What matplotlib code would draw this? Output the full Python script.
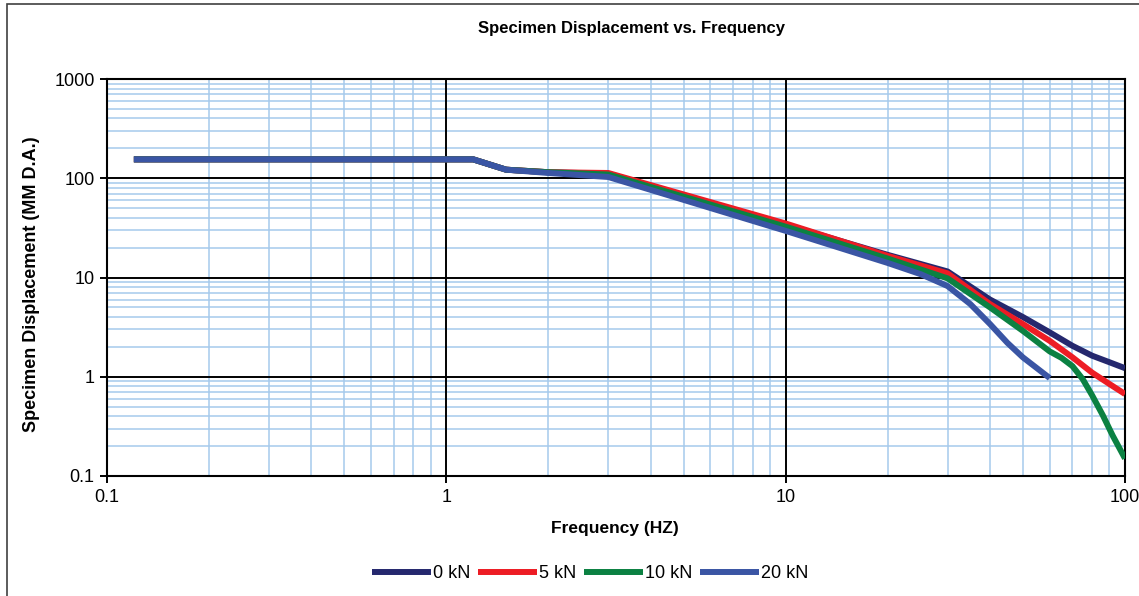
import matplotlib
matplotlib.use("Agg")
import matplotlib.pyplot as plt
from matplotlib.patches import Rectangle
from matplotlib.ticker import LogLocator, FixedLocator, FuncFormatter, NullFormatter

plt.rcParams["font.family"] = ["Liberation Sans", "DejaVu Sans"]

# data (Hz, mm D.A.)
freq_0kn = [0.12, 1.2, 1.5, 2, 3, 10, 20, 30, 40, 50, 60, 70, 80, 90, 100]
disp_0kn = [155, 155, 122, 115, 111, 34, 16.9, 11.5, 6.0, 4.0, 2.8, 2.05, 1.63, 1.4, 1.22]

freq_5kn = [0.12, 1.2, 1.5, 2, 3, 10, 20, 30, 40, 50, 60, 70, 80, 90, 100]
disp_5kn = [155, 155, 122, 115, 113, 35, 16.5, 11.0, 5.4, 3.4, 2.3, 1.57, 1.1, 0.845, 0.67]

freq_10kn = [0.12, 1.2, 1.5, 2, 3, 10, 20, 30, 40, 50, 60, 65, 70, 75, 80, 86, 92, 100]
disp_10kn = [155, 155, 122, 115, 109, 32.5, 15.5, 9.8, 5.0, 2.9, 1.8, 1.55, 1.28, 0.95, 0.65, 0.41, 0.255, 0.15]

freq_20kn = [0.12, 1.2, 1.5, 2, 3, 10, 20, 25, 30, 35, 40, 45, 50, 60]
disp_20kn = [155, 155, 122, 113, 103, 29.5, 14, 10.8, 8.2, 5.4, 3.4, 2.2, 1.57, 0.97]

labels = ["0 kN", "5 kN", "10 kN", "20 kN"]
colors = ["#25286e", "#ed1c24", "#0b8142", "#3a55a4"]

x_major = [0.1, 1, 10, 100]
y_major = [0.1, 1, 10, 100, 1000]

lw = 4.3

fig = plt.figure(figsize=(11.39, 5.96), dpi=100)
ax = fig.add_axes([107 / 1139, 120 / 596, 1018 / 1139, 397 / 596])

series = [(freq_0kn, disp_0kn), (freq_5kn, disp_5kn), (freq_10kn, disp_10kn), (freq_20kn, disp_20kn)]
for (f, d), lab, col in zip(series, labels, colors):
    ax.plot(f, d, color=col, linewidth=lw, label=lab, solid_joinstyle="round",
            solid_capstyle="butt", zorder=3)

ax.set_xscale("log")
ax.set_yscale("log")
ax.set_xlim(0.1, 100)
ax.set_ylim(0.1, 1000)

fmt = FuncFormatter(lambda v, p: "%g" % v)
ax.xaxis.set_major_locator(FixedLocator(x_major))
ax.yaxis.set_major_locator(FixedLocator(y_major))
ax.xaxis.set_major_formatter(fmt)
ax.yaxis.set_major_formatter(fmt)
ax.xaxis.set_minor_locator(LogLocator(base=10, subs=range(2, 10)))
ax.yaxis.set_minor_locator(LogLocator(base=10, subs=range(2, 10)))
ax.xaxis.set_minor_formatter(NullFormatter())
ax.yaxis.set_minor_formatter(NullFormatter())

# light blue minor grid, black major lines drawn over it
ax.grid(which="minor", color="#a6caec", linewidth=1.1)
ax.set_axisbelow(True)
for v in x_major:
    ax.axvline(v, color="black", linewidth=1.4, zorder=1)
for v in y_major:
    ax.axhline(v, color="black", linewidth=1.4, zorder=1)

ax.tick_params(which="minor", length=0)
ax.tick_params(which="major", direction="out", length=5, width=1.4, labelsize=13, pad=4)
for sp in ax.spines.values():
    sp.set_linewidth(1.5)
    sp.set_color("black")

fig.text(631 / 1139, 1 - 28 / 596, "Specimen Displacement vs. Frequency",
         ha="center", va="center", fontsize=12, fontweight="bold")
fig.text(615 / 1139, 1 - 528 / 596, "Frequency (HZ)",
         ha="center", va="center", fontsize=12.5, fontweight="bold")
fig.text(32 / 1139, 1 - 284 / 596, "Specimen Displacement (MM D.A.)",
         ha="center", va="center", rotation=90, fontsize=13, fontweight="bold")

fig.legend(loc="center", bbox_to_anchor=(590 / 1139, 1 - 574 / 596), ncol=4,
           frameon=False, fontsize=13, handlelength=3.3, handletextpad=0.1,
           columnspacing=0.4)

# chart area border (left/top edges visible)
fig.add_artist(Rectangle((7 / 1139, -0.1), 1.2, 0.1 + 1 - 4 / 596, transform=fig.transFigure,
                         fill=False, edgecolor="#404040", linewidth=1.2))

fig.savefig("out.png", dpi=100)
